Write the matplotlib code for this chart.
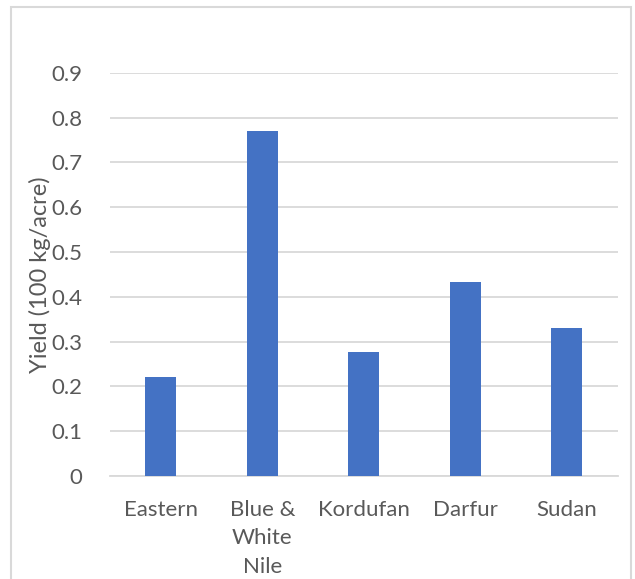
import matplotlib.pyplot as plt
import numpy as np
from matplotlib.patches import Rectangle

# ----------------------------- Data -----------------------------
regions = ["Eastern", "Blue &\nWhite\nNile", "Kordufan", "Darfur", "Sudan"]
yield_values = [0.222, 0.770, 0.276, 0.433, 0.330]
y_ticks = [0, 0.1, 0.2, 0.3, 0.4, 0.5, 0.6, 0.7, 0.8, 0.9]
y_tick_labels = ["0", "0.1", "0.2", "0.3", "0.4", "0.5", "0.6", "0.7", "0.8", "0.9"]

BAR_COLOR = "#4472C4"
GRID_COLOR = "#D9D9D9"
TEXT_COLOR = "#595959"

plt.rcParams['font.family'] = ['Lato', 'DejaVu Sans']

fig = plt.figure(figsize=(6.35, 5.79), dpi=100)

# chart outer border (Excel style)
fig.patches.append(Rectangle((11 / 635, -0.1), 620 / 635, 1.1 - 7 / 579,
                             transform=fig.transFigure, fill=False,
                             edgecolor=GRID_COLOR, linewidth=1.5))

ax = fig.add_axes([110 / 635, 103 / 579, 507.7 / 635, 403.3 / 579])

x = np.arange(len(regions))
ax.bar(x, yield_values, width=0.305, color=BAR_COLOR, zorder=3)

ax.set_xlim(-0.5, len(regions) - 0.5)
ax.set_ylim(0, 0.9)
ax.set_yticks(y_ticks)
ax.set_yticklabels(y_tick_labels)
ax.set_xticks(x)
ax.set_xticklabels(regions, linespacing=1.55)

ax.yaxis.grid(True, color=GRID_COLOR, linewidth=1.3, zorder=0)
for side in ["top", "right", "left"]:
    ax.spines[side].set_visible(False)
ax.spines["bottom"].set_color(GRID_COLOR)
ax.spines["bottom"].set_linewidth(1.3)

ax.tick_params(axis="both", length=0, labelsize=16, colors=TEXT_COLOR)
ax.tick_params(axis="y", pad=20)
ax.tick_params(axis="x", pad=17)

ax.set_ylabel("Yield (100 kg/acre)", fontsize=17, color=TEXT_COLOR, labelpad=0)

plt.savefig("out.png", dpi=100)
